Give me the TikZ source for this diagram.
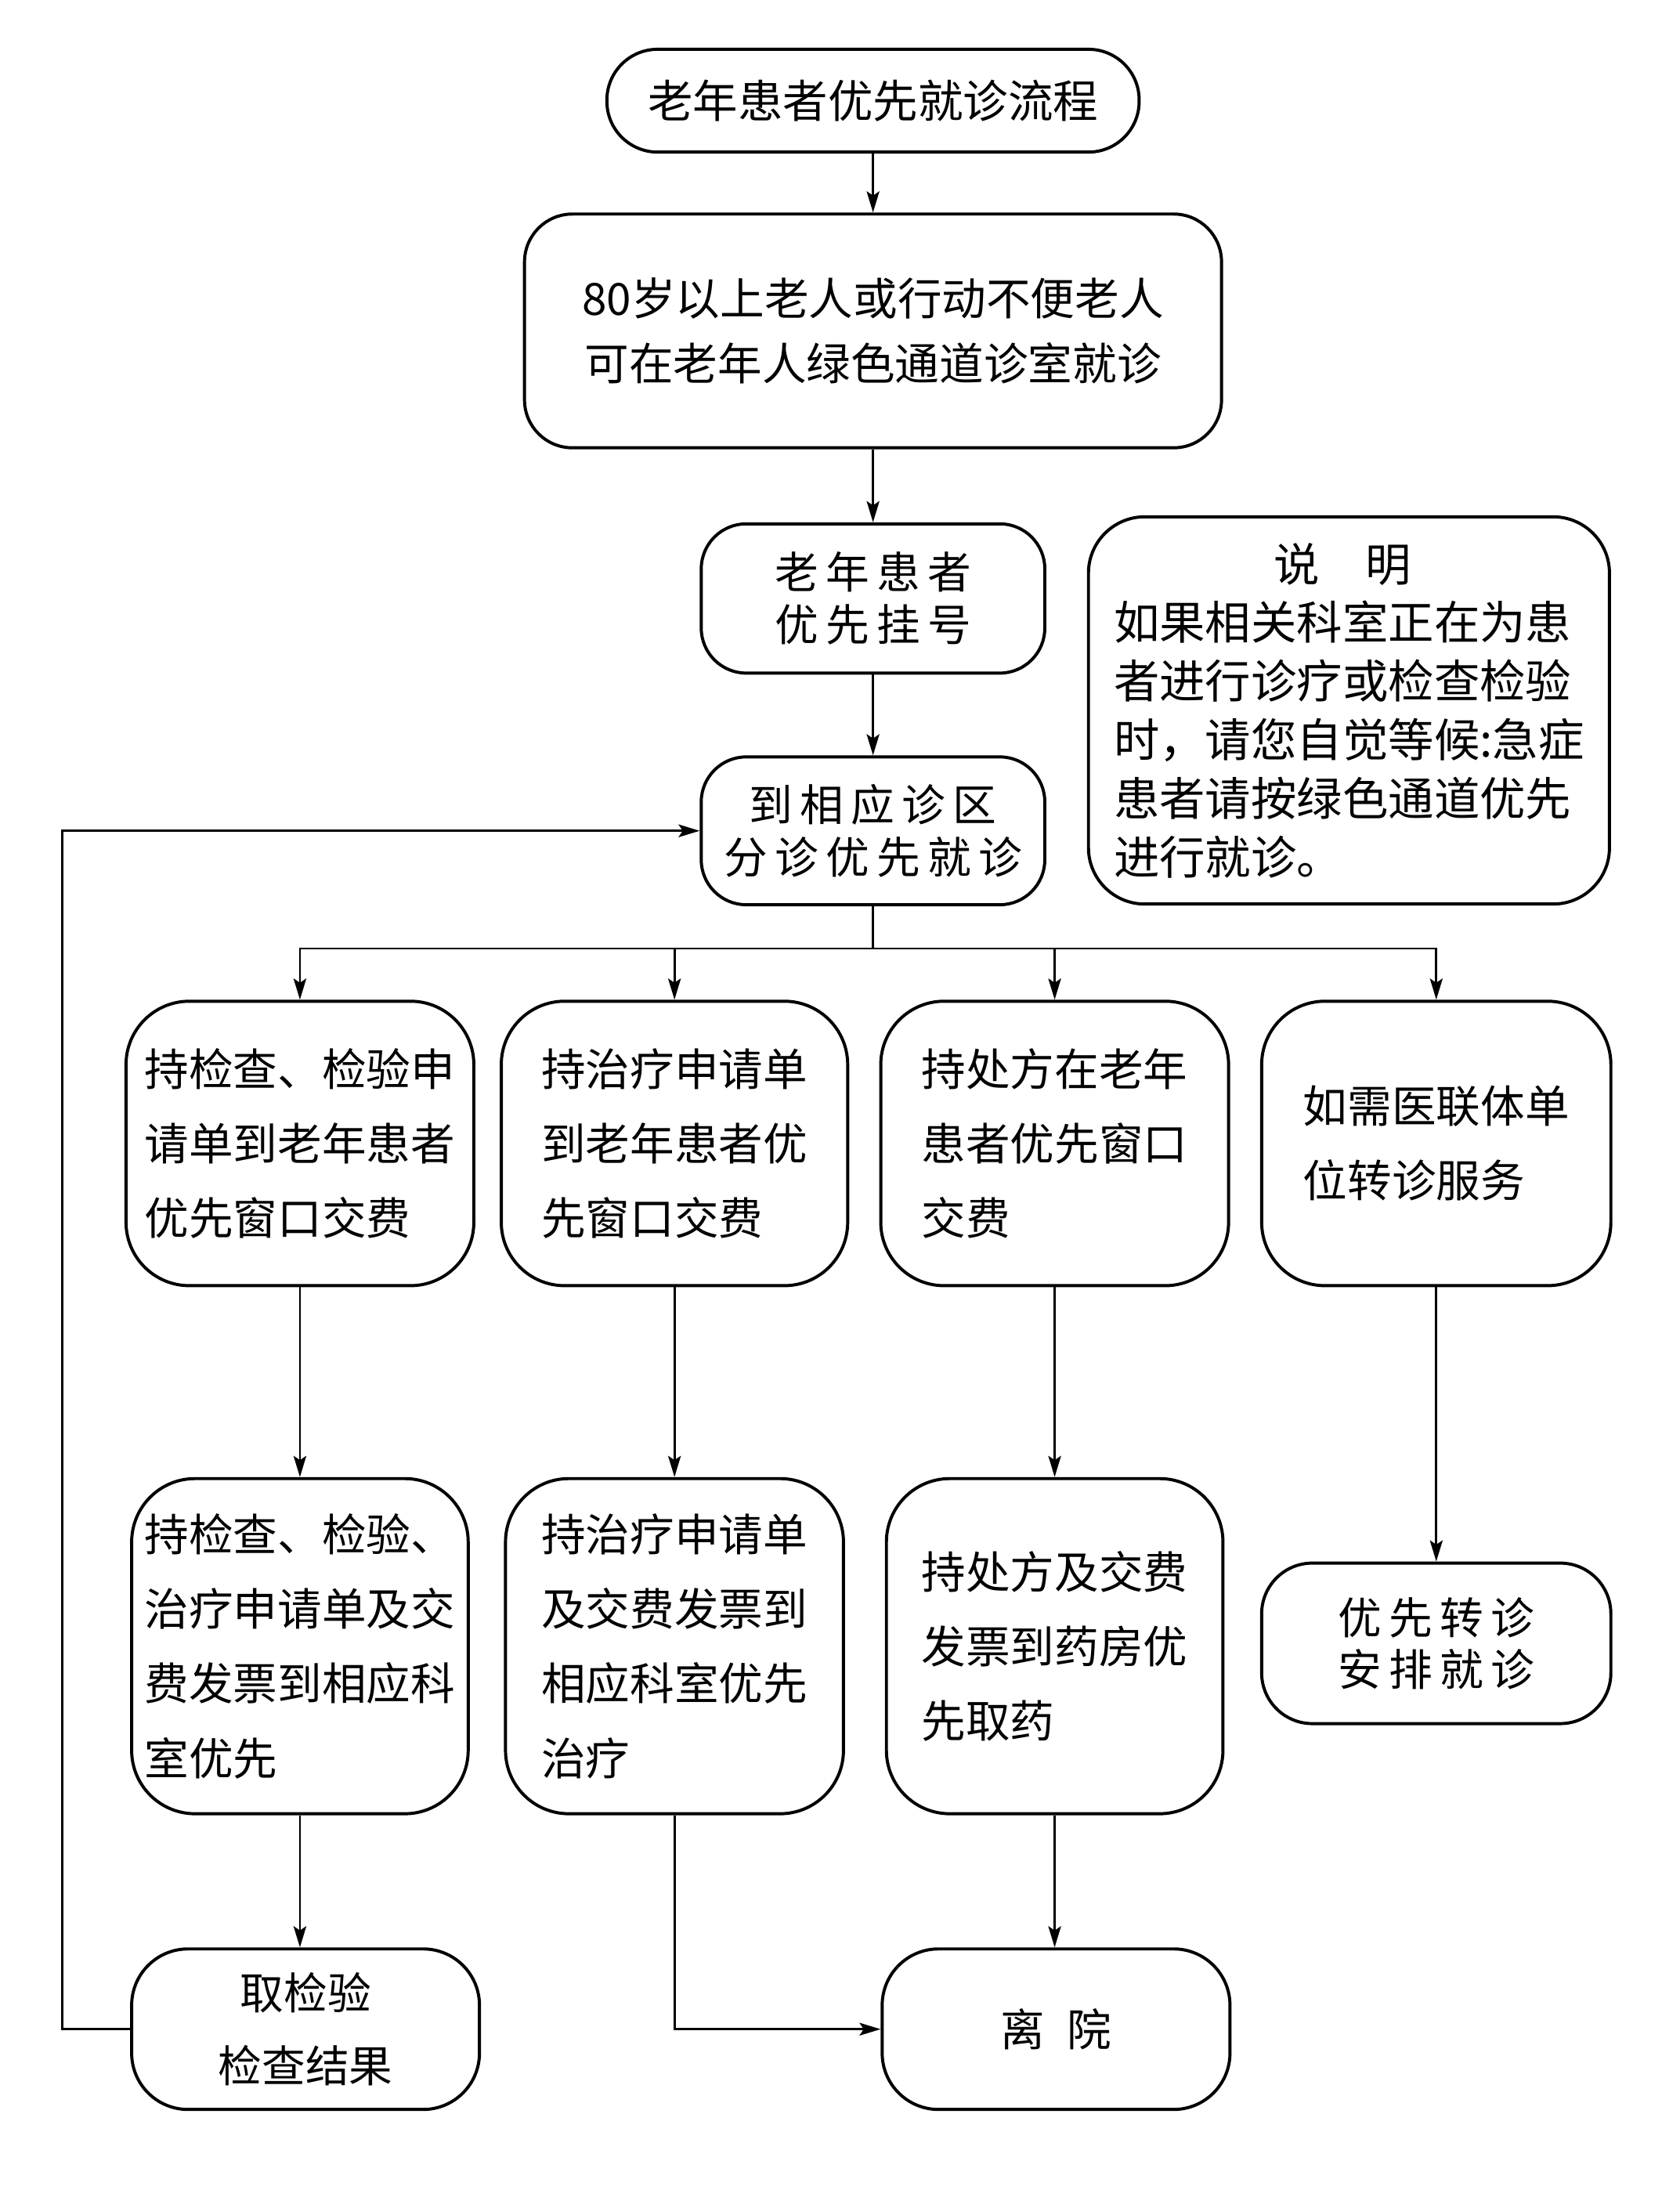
\documentclass[tikz,border=0pt]{standalone}
\usepackage{fontspec}
\setmainfont{Noto Sans CJK SC}
\usetikzlibrary{arrows.meta}

\tikzset{
  box/.style={draw, line width=2.2pt, rounded corners=#1, inner sep=0pt, align=left,
    font=\fontsize{31.5}{53}\selectfont},
  tight/.style={align=center, font=\fontsize{31}{37}\selectfont},
  wire/.style={line width=1.6pt},
  link/.style={line width=1.6pt, -{Stealth[length=15pt,width=9pt,inset=3pt]}},
}

\begin{document}
\begin{tikzpicture}[x=1pt,y=-1pt]
        \useasboundingbox (0,0) rectangle (1193,1568);
        % top column
        \node[box=36, minimum width=378, minimum height=73, font=\fontsize{32}{40}\selectfont] (title) at (620,71.5) {老年患者优先就诊流程};
        \node[box=34, minimum width=495, minimum height=166, align=center, font=\fontsize{31.5}{46}\selectfont] (cond) at (620,235) {80岁以上老人或行动不便老人\\可在老年人绿色通道诊室就诊};
        \node[box=32, minimum width=244, minimum height=106, tight] (reg) at (620,425) {老\,年\,患\,者\\优\,先\,挂\,号};
        \node[box=32, minimum width=244, minimum height=105, tight] (area) at (620,590) {到\,相\,应\,诊\,区\\分\,诊\,优\,先\,就\,诊};
        \node[box=40, minimum width=370, minimum height=275, font=\fontsize{32.5}{41.6}\selectfont] (note) at (958,504.5) {\hspace*{3.5em}说\quad 明\\如果相关科室正在为患\\者进行诊疗或检查检验\\时，请您自觉等候:急症\\患者请按绿色通道优先\\进行就诊。};
        % first row
        \node[box=45, minimum width=247, minimum height=202] (exam1) at (213,812) {持检查、检验申\\请单到老年患者\\优先窗口交费};
        \node[box=45, minimum width=246, minimum height=202] (treat1) at (479,812) {持治疗申请单\\到老年患者优\\先窗口交费};
        \node[box=45, minimum width=247, minimum height=202] (drug1) at (749,812) {持处方在老年\\患者优先窗口\\交费};
        \node[box=45, minimum width=248, minimum height=202] (refer1) at (1020,812) {如需医联体单\\位转诊服务};
        % second row
        \node[box=45, minimum width=239, minimum height=238] (exam2) at (213,1169) {持检查、检验、\\治疗申请单及交\\费发票到相应科\\室优先};
        \node[box=45, minimum width=240, minimum height=238] (treat2) at (479,1169) {持治疗申请单\\及交费发票到\\相应科室优先\\治疗};
        \node[box=45, minimum width=239, minimum height=238] (drug2) at (749,1169) {持处方及交费\\发票到药房优\\先取药};
        \node[box=36, minimum width=248, minimum height=114, tight] (refer2) at (1020,1167) {优\,先\,转\,诊\\安\,排\,就\,诊};
        % third row
        \node[box=40, minimum width=247, minimum height=114, align=center, font=\fontsize{31}{52}\selectfont] (fetch) at (217,1441) {取检验\\检查结果};
        \node[box=40, minimum width=247, minimum height=114] (leave) at (750,1441) {离\hspace{.5em}院};
        \coordinate (back) at (44,590);
        % connectors
        \draw[link] (title) -- (cond);
        \draw[link] (cond) -- (reg);
        \draw[link] (reg) -- (area);
        \draw[wire] (area.south) -- ++(0,30) coordinate (fork);
        \draw[link] (fork) -| (exam1);
        \draw[link] (fork) -| (treat1);
        \draw[link] (fork) -| (drug1);
        \draw[link] (fork) -| (refer1);
        \draw[link] (exam1) -- (exam2);
        \draw[link] (treat1) -- (treat2);
        \draw[link] (drug1) -- (drug2);
        \draw[link] (refer1) -- (refer2);
        \draw[link] (exam2.south) -- (exam2.south |- fetch.north);
        \draw[link] (drug2.south) -- (drug2.south |- leave.north);
        \draw[link] (treat2.south) |- (leave.west);
        \draw[link] (fetch.west) -| (back) -- (area.west);
\end{tikzpicture}
\end{document}
